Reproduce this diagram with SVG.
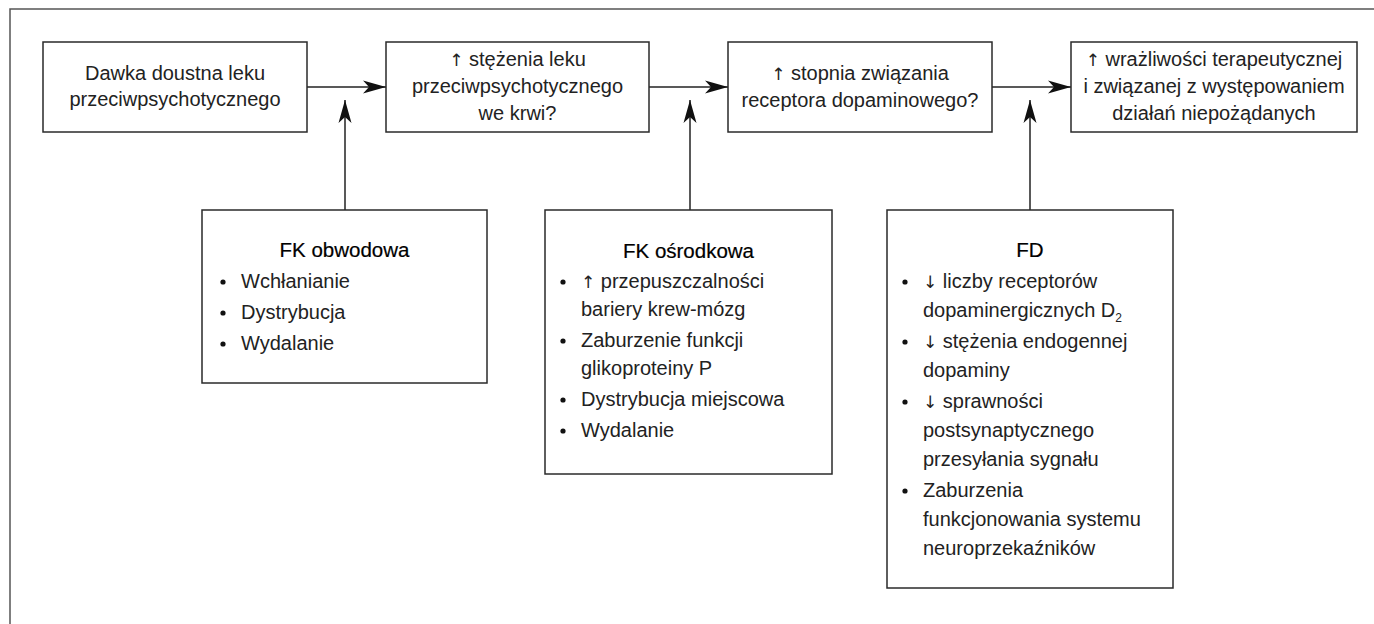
<svg xmlns="http://www.w3.org/2000/svg" width="1374" height="624" viewBox="0 0 1374 624">
<style>
.box{fill:#fff;stroke:#2a2a2a;stroke-width:1.5}
.frame{fill:none;stroke:#555;stroke-width:1.5}
.t{font-family:"Liberation Sans",Arial,sans-serif;font-size:20px;fill:#222}
.c{text-anchor:middle}
.a{font-family:"DejaVu Sans",sans-serif;font-size:17px;fill:#222}
.h{font-family:"Liberation Sans",Arial,sans-serif;font-size:20.5px;fill:#000;text-anchor:middle;stroke:#000;stroke-width:0.2}
.con{stroke:#222;stroke-width:1.5;fill:none}
.dot{fill:#111}
</style>
<defs>
<marker id="ah" viewBox="-24 -7 25 14" refX="0" refY="0" markerWidth="25" markerHeight="14" markerUnits="userSpaceOnUse" orient="auto">
<path d="M0,0 L-23,-6.5 L-17,0 L-23,6.5 Z" fill="#111"/>
</marker>
</defs>
<path class="frame" d="M10,624 V9 H1374"/>

<g id="connectors">
<line class="con" x1="307" y1="87" x2="386" y2="87" marker-end="url(#ah)"/>
<line class="con" x1="649" y1="87" x2="728" y2="87" marker-end="url(#ah)"/>
<line class="con" x1="992" y1="87" x2="1071" y2="87" marker-end="url(#ah)"/>
<line class="con" x1="345" y1="210" x2="345" y2="100" marker-end="url(#ah)"/>
<line class="con" x1="690" y1="210" x2="690" y2="100" marker-end="url(#ah)"/>
<line class="con" x1="1030" y1="210" x2="1030" y2="100" marker-end="url(#ah)"/>
</g>

<g id="n1">
<rect class="box" x="43" y="42" width="264" height="90"/>
<text class="t c" x="175" y="80">Dawka doustna leku</text>
<text class="t c" x="175" y="106">przeciwpsychotycznego</text>
</g>

<g id="n2">
<rect class="box" x="386" y="42" width="263" height="90"/>
<text class="t c" x="517.5" y="66"><tspan class="a">↑</tspan> stężenia leku</text>
<text class="t c" x="517.5" y="93">przeciwpsychotycznego</text>
<text class="t c" x="517.5" y="120">we krwi?</text>
</g>

<g id="n3">
<rect class="box" x="728" y="42" width="264" height="90"/>
<text class="t c" x="860" y="80"><tspan class="a">↑</tspan> stopnia związania</text>
<text class="t c" x="860" y="107">receptora dopaminowego?</text>
</g>

<g id="n4">
<rect class="box" x="1071" y="42" width="286" height="90"/>
<text class="t c" x="1214" y="66"><tspan class="a">↑</tspan> wrażliwości terapeutycznej</text>
<text class="t c" x="1214" y="93">i związanej z występowaniem</text>
<text class="t c" x="1214" y="120">działań niepożądanych</text>
</g>

<g id="n5">
<rect class="box" x="202" y="210" width="285" height="173"/>
<text class="h" x="344.5" y="257">FK obwodowa</text>
<circle class="dot" cx="223" cy="282" r="2.6"/>
<text class="t" x="241" y="288">Wchłanianie</text>
<circle class="dot" cx="223" cy="313" r="2.6"/>
<text class="t" x="241" y="319">Dystrybucja</text>
<circle class="dot" cx="223" cy="344" r="2.6"/>
<text class="t" x="241" y="350">Wydalanie</text>
</g>

<g id="n6">
<rect class="box" x="545" y="210" width="287" height="264"/>
<text class="h" x="688.5" y="258">FK ośrodkowa</text>
<circle class="dot" cx="563" cy="282" r="2.6"/>
<text class="t" x="581" y="288"><tspan class="a">↑</tspan> przepuszczalności</text>
<text class="t" x="581" y="316">bariery krew-mózg</text>
<circle class="dot" cx="563" cy="341" r="2.6"/>
<text class="t" x="581" y="347">Zaburzenie funkcji</text>
<text class="t" x="581" y="375">glikoproteiny P</text>
<circle class="dot" cx="563" cy="400" r="2.6"/>
<text class="t" x="581" y="406">Dystrybucja miejscowa</text>
<circle class="dot" cx="563" cy="431" r="2.6"/>
<text class="t" x="581" y="437">Wydalanie</text>
</g>

<g id="n7">
<rect class="box" x="887" y="210" width="286" height="378"/>
<text class="h" x="1030" y="257">FD</text>
<circle class="dot" cx="905" cy="282" r="2.6"/>
<text class="t" x="923" y="288"><tspan class="a">↓</tspan> liczby receptorów</text>
<text class="t" x="923" y="317">dopaminergicznych D<tspan font-size="12" dy="5">2</tspan></text>
<circle class="dot" cx="905" cy="342" r="2.6"/>
<text class="t" x="923" y="348"><tspan class="a">↓</tspan> stężenia endogennej</text>
<text class="t" x="923" y="377">dopaminy</text>
<circle class="dot" cx="905" cy="402" r="2.6"/>
<text class="t" x="923" y="408"><tspan class="a">↓</tspan> sprawności</text>
<text class="t" x="923" y="437">postsynaptycznego</text>
<text class="t" x="923" y="466">przesyłania sygnału</text>
<circle class="dot" cx="905" cy="491" r="2.6"/>
<text class="t" x="923" y="497">Zaburzenia</text>
<text class="t" x="923" y="526">funkcjonowania systemu</text>
<text class="t" x="923" y="555">neuroprzekaźników</text>
</g>
</svg>
